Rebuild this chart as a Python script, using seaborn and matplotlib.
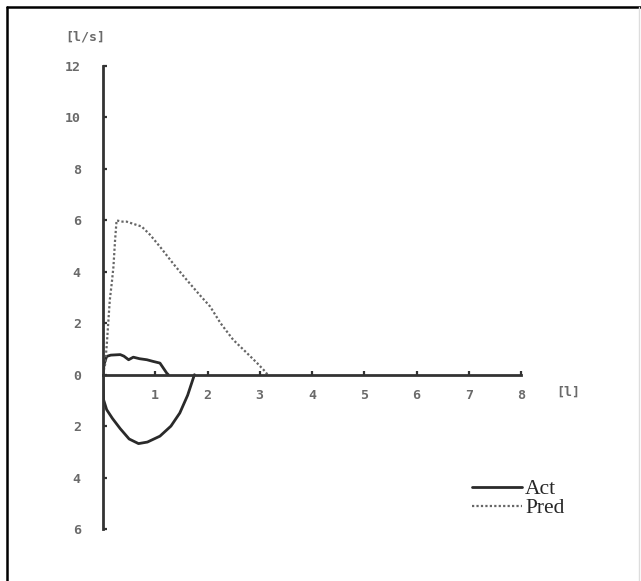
import matplotlib
matplotlib.use('Agg')
import matplotlib.pyplot as plt
import matplotlib.ticker as mticker
from matplotlib.lines import Line2D
import seaborn as sns
import pandas as pd

# flow-volume loop: measured (Act) vs predicted (Pred)
act_x = [1.25, 1.22, 1.09, 0.95, 0.84, 0.70, 0.58, 0.49, 0.40, 0.33, 0.15, 0.07, 0.02, 0.0,
         0.01, 0.07, 0.18, 0.33, 0.50, 0.68, 0.85, 1.09, 1.30, 1.47, 1.62, 1.75]
act_y = [0.0, 0.06, 0.45, 0.52, 0.58, 0.62, 0.68, 0.58, 0.72, 0.78, 0.76, 0.71, 0.40, 0.0,
         -0.97, -1.36, -1.70, -2.10, -2.50, -2.68, -2.62, -2.39, -2.00, -1.49, -0.80, 0.0]

pred_x = [0.0, 0.04, 0.07, 0.10, 0.13, 0.17, 0.20, 0.23, 0.26, 0.35, 0.45, 0.60, 0.74, 0.90,
          1.10, 1.35, 1.60, 1.85, 2.05, 2.25, 2.49, 2.75, 2.95, 3.10, 3.15]
pred_y = [0.0, 0.4, 1.1, 2.0, 2.9, 3.6, 4.2, 5.2, 6.0, 5.95, 5.95, 5.85, 5.76, 5.44,
          4.95, 4.3, 3.69, 3.1, 2.65, 2.0, 1.36, 0.85, 0.45, 0.13, 0.0]

x_ticks = [1, 2, 3, 4, 5, 6, 7, 8]
y_ticks = [-6, -4, -2, 0, 2, 4, 6, 8, 10, 12]

sns.set_theme(style="white")
plt.rcParams['font.family'] = ['DejaVu Sans Mono', 'DejaVu Sans']

W, H = 641, 581
fig = plt.figure(figsize=(W / 100, H / 100), dpi=100)
fig.patch.set_facecolor('white')

# axes placed so that x 0..8 spans px 103..521 and y -6..12 spans px 529..66
ax = fig.add_axes([103 / W, 1 - 529 / H, (521 - 103) / W, (529 - 66) / H])
ax.set_facecolor('none')

act = pd.DataFrame({'x': act_x, 'y': act_y})
pred = pd.DataFrame({'x': pred_x, 'y': pred_y})
sns.lineplot(data=act, x='x', y='y', sort=False, estimator=None, ax=ax,
             color='#2a2a2a', linewidth=2.0)
sns.lineplot(data=pred, x='x', y='y', sort=False, estimator=None, ax=ax,
             color='#666666', linewidth=1.6, linestyle=(0, (1, 1)))

ax.set_xlim(0, 8)
ax.set_ylim(-6, 12)
ax.set_xlabel('')
ax.set_ylabel('')

for s in ['top', 'right']:
    ax.spines[s].set_visible(False)
ax.spines['left'].set_position(('data', 0))
ax.spines['bottom'].set_position(('data', 0))
for s in ['left', 'bottom']:
    ax.spines[s].set_color('#333333')
    ax.spines[s].set_linewidth(2.0)

ax.set_xticks(x_ticks)
ax.set_yticks(y_ticks)
ax.yaxis.set_major_formatter(mticker.FuncFormatter(lambda v, p: f'{abs(v):g}'))
ax.tick_params(axis='x', bottom=True, direction='in', length=3, width=1.6, color='#333333',
               pad=10, labelsize=9.5, labelcolor='#6a6a6a')
ax.tick_params(axis='y', left=True, direction='in', length=3, width=1.6, color='#333333',
               pad=16, labelsize=9.5, labelcolor='#6a6a6a')
for lab in ax.get_xticklabels() + ax.get_yticklabels():
    lab.set_fontweight('bold')

# unit labels
fig.text(85 / W, 1 - 37 / H, '[l/s]', ha='center', va='center', fontsize=9.5,
         color='#6a6a6a', fontweight='bold')
fig.text(568 / W, 1 - 392 / H, '[l]', ha='center', va='center', fontsize=9.5,
         color='#6a6a6a', fontweight='bold')

handles = [Line2D([], [], color='#2a2a2a', linewidth=2.0),
           Line2D([], [], color='#666666', linewidth=1.6, linestyle=(0, (1, 1)))]
fig.legend(handles, ['Act', 'Pred'], loc='upper left',
           bbox_to_anchor=(453 / W, 1 - 460 / H), frameon=False,
           handlelength=2.3, handletextpad=0.15, labelspacing=-0.05,
           prop={'family': 'Liberation Serif', 'size': 15.5})

# outer frame (top, left dark; right faint)
fig.add_artist(Line2D([7 / W, 7 / W], [0, 1 - 7 / H], transform=fig.transFigure,
                      color='black', linewidth=1.8))
fig.add_artist(Line2D([7 / W, 1], [1 - 7 / H, 1 - 7 / H], transform=fig.transFigure,
                      color='black', linewidth=1.8))
fig.add_artist(Line2D([639 / W, 639 / W], [0, 1 - 7 / H], transform=fig.transFigure,
                      color='#dddddd', linewidth=1.0))

fig.savefig('out.png', dpi=100)
